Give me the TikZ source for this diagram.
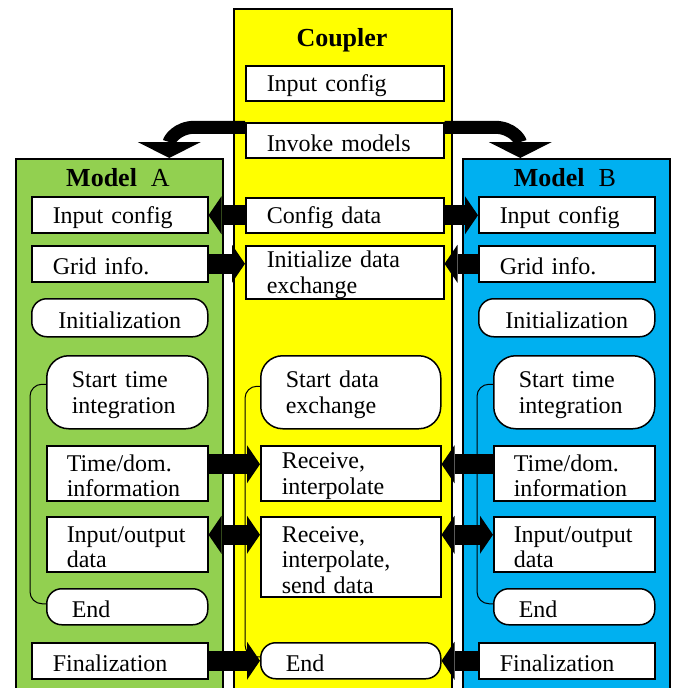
\documentclass[tikz,border=0pt]{standalone}
\usepackage{fontspec}
\setmainfont{Liberation Serif}
\usetikzlibrary{arrows.meta}
\definecolor{modelA}{HTML}{92D050}
\definecolor{modelB}{HTML}{00B0F0}
\definecolor{couplerY}{HTML}{FFFF00}
\newcommand\boxfont{\fontsize{24}{25.5}\selectfont}
\newcommand\headfont{\fontsize{26}{28}\selectfont}

\begin{document}
\begin{tikzpicture}[x=1pt, y=-1pt,
  col/.style={draw, line width=1.5pt, anchor=north west, inner sep=0pt, minimum height=700pt},
  box/.style={draw, fill=white, line width=1.5pt, anchor=north west, inner ysep=0pt, inner xsep=21pt, align=left, font=\boxfont, text height=22pt},
  rbox/.style={box, rounded corners=15pt, inner xsep=25pt},
  head/.style={anchor=base, font=\headfont},
  loopline/.style={line width=1pt, rounded corners=12pt},
  blk/.style={line width=20pt, -{Triangle[length=13pt, width=38pt, line width=0pt]}},
  dblk/.style={line width=20pt, {Triangle[length=13pt, width=38pt, line width=0pt]}-{Triangle[length=13pt, width=38pt, line width=0pt]}},
  invoke/.style={line width=13pt, -{Triangle[length=16pt, width=63pt, line width=0pt]}}
]
  \useasboundingbox (0,0) rectangle (673,688);
  \clip (0,0) rectangle (673,688);
  \fill[white] (0,0) rectangle (673,688);

  \node[col, fill=couplerY, minimum width=218pt] (coupler) at (233,8) {};
  \node[head] (ctitle) at (342,46) {\bfseries Coupler};
  \node[box, text width=156pt, minimum height=35pt] (cinput) at (245,65) {Input config};
  \node[box, text width=156pt, minimum height=35pt] (invoke) at (245,122) {Invoke models};
  \node[box, text width=156pt, minimum height=35pt] (cdata) at (245,197) {Config data};
  \node[box, text width=156pt, minimum height=53pt] (cinit) at (245,245) {Initialize data\\exchange};
  \node[rbox, rounded corners=22pt, text width=130pt, minimum height=73pt] (cstart) at (260,355) {Start data\\exchange};
  \node[box, text width=138pt, minimum height=55pt] (recv) at (260,445) {Receive,\\interpolate};
  \node[box, text width=138pt, minimum height=80pt] (recvsend) at (260,516) {Receive,\\interpolate,\\send data};
  \node[rbox, text width=130pt, minimum height=36pt] (cend) at (260,642) {End};
  \draw[loopline] ([yshift=6pt]cstart.west) -- ++(-15,0) |- ([yshift=4pt]cend.west);

  \foreach \m/\dx/\c/\ms/\cs in {A/0/modelA/east/west, B/447/modelB/west/east} {
    \node[col, fill=\c, minimum width=207pt] (col\m) at (15+\dx,158) {};
    \node[head] (title\m) at (118+\dx,186) {\textbf{Model}\hspace{14pt}\m};
    \node[box, text width=134pt, minimum height=36pt] (\m-input) at (31+\dx,196) {Input config};
    \node[box, text width=134pt, minimum height=36pt] (\m-grid) at (31+\dx,245) {Grid info.};
    \node[rbox, text width=126pt, minimum height=38pt, align=center] (\m-init) at (31+\dx,298) {Initialization};
    \node[rbox, rounded corners=22pt, text width=111pt, minimum height=73pt] (\m-start) at (46+\dx,355) {Start time\\integration};
    \node[box, inner xsep=20pt, text width=121pt, minimum height=55pt] (\m-time) at (46+\dx,445) {Time/dom.\\information};
    \node[box, inner xsep=20pt, text width=121pt, minimum height=55pt] (\m-io) at (46+\dx,516) {Input/output\\data};
    \node[rbox, text width=111pt, minimum height=36pt] (\m-end) at (46+\dx,588) {End};
    \node[box, text width=134pt, minimum height=36pt] (\m-final) at (31+\dx,642) {Finalization};
    \draw[loopline] ([yshift=8pt]\m-start.west) -- ++(-16,0) |- ([yshift=3pt]\m-end.west);
    \draw[blk] (cdata.\cs) -- (cdata.\cs -| \m-input.\ms);
    \draw[blk] (\m-grid.\ms) -- (\m-grid.\ms -| cinit.\cs);
    \draw[blk] ([yshift=9pt]\m-time.\ms) -- ([yshift=9pt]\m-time.\ms -| recv.\cs);
    \draw[dblk] ([yshift=9.5pt]\m-io.\ms) -- ([yshift=9.5pt]\m-io.\ms -| recvsend.\cs);
    \draw[blk] (\m-final.\ms) -- (\m-final.\ms -| cend.\cs);
  }

  \draw[invoke] ([yshift=13pt]invoke.west) -- ++(-50,0) .. controls +(-18,0) and +(0,-18) .. ([xshift=50pt]colA.north);
  \draw[invoke] ([yshift=13pt]invoke.east) -- ++(50,0) .. controls +(18,0) and +(0,-18) .. ([xshift=-46pt]colB.north);
\end{tikzpicture}
\end{document}
